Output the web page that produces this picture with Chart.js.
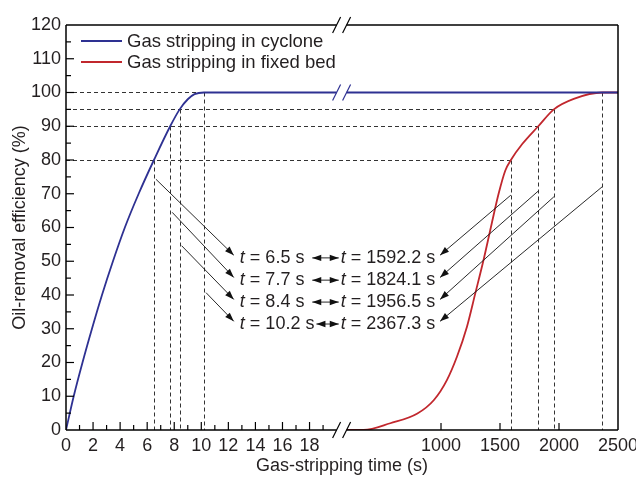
<!DOCTYPE html>
<html><head><meta charset="utf-8">
<script src="https://cdn.jsdelivr.net/npm/chart.js@4.4.1/dist/chart.umd.min.js"></script>
<style>html,body{margin:0;padding:0;background:#fff}canvas{display:block}</style>
</head><body>
<canvas id="c" width="636" height="477" style="width:636px;height:477px"></canvas>
<script>
// ---------- data ----------
const seriesNames = ['Gas stripping in cyclone', 'Gas stripping in fixed bed'];
const cycloneTime = [0, 0.57, 1.22, 1.92, 2.66, 3.47, 4.35, 5.37, 6.5, 7.7, 8.4, 9.0, 9.5, 10.2, 20, 2500];
const cycloneEff  = [0, 10, 20, 30, 40, 50, 60, 70, 80, 90, 95, 98, 99.5, 100, 100, 100];
const fixedTime = [200, 344, 570, 800, 940, 1050, 1135, 1220, 1290, 1360, 1430, 1488, 1545, 1592.2, 1690, 1824.1, 1956.5, 2125, 2367.3, 2500];
const fixedEff  = [0, 0, 2, 4.9, 8.9, 14.8, 21.7, 30.6, 40.4, 50.3, 61.2, 70, 76.9, 80, 84.8, 90, 95, 98.1, 100, 100];
const markLevels   = [80, 90, 95, 100];
const cycloneMarks = [6.5, 7.7, 8.4, 10.2];
const fixedMarks   = [1592.2, 1824.1, 1956.5, 2367.3];
const xTicksLeft  = [0, 2, 4, 6, 8, 10, 12, 14, 16, 18];
const xTicksRight = [1000, 1500, 2000, 2500];
const yTickLabels = [0, 10, 20, 30, 40, 50, 60, 70, 80, 90, 100, 110, 120];
const xTitle = 'Gas-stripping time (s)';
const yTitle = 'Oil-removal efficiency (%)';

// ---------- broken-axis mapping ----------
const LEFT_MAX = 20, RIGHT_MIN = 200, RIGHT_MAX = 2500, GAP = 0.74, K = 0.008721;
function vx(t) {
  if (t <= LEFT_MAX) return t;
  if (t >= RIGHT_MIN) return LEFT_MAX + GAP + (t - RIGHT_MIN) * K;
  return LEFT_MAX + (t - LEFT_MAX) / (RIGHT_MIN - LEFT_MAX) * GAP;
}
const VMAX = vx(RIGHT_MAX);
const xTickVals = [...xTicksLeft, ...xTicksRight];

// ---------- styles ----------
const FONT = "'Liberation Sans', Arial, sans-serif";
const TXT = '#231f20';
const BLUE = '#2e3192';
const RED = '#c1272d';

// annotation layout (data-space anchors)
const annot = {
  rowY: [51, 44.4, 37.9, 31.4],
  leftStartY: [74.3, 64.5, 54.6, 40.7],
  rightStartY: [69.6, 70.8, 69.1, 72.1],
  leftTipT: 12.4, leftTextT: 12.85, rightTextEndT: 952, rightTipT: 992,
  dblStartT: 18.2
};

function line(ctx, x1, y1, x2, y2) { ctx.beginPath(); ctx.moveTo(x1, y1); ctx.lineTo(x2, y2); ctx.stroke(); }
function head(ctx, x1, y1, x2, y2, len, half) {
  const a = Math.atan2(y2 - y1, x2 - x1), c = Math.cos(a), s = Math.sin(a);
  ctx.beginPath();
  ctx.moveTo(x2, y2);
  ctx.lineTo(x2 - len * c + half * s, y2 - len * s - half * c);
  ctx.lineTo(x2 - len * c - half * s, y2 - len * s + half * c);
  ctx.closePath(); ctx.fill();
}
function arrow(ctx, x1, y1, x2, y2) {
  line(ctx, x1, y1, x2, y2);
  head(ctx, x1, y1, x2, y2, 9, 3.2);
}
function tText(ctx, x, y, val, align) {
  const rest = ' = ' + val + ' s';
  ctx.font = 'italic 18px ' + FONT; const w1 = ctx.measureText('t').width;
  ctx.font = '18px ' + FONT; const w2 = ctx.measureText(rest).width;
  let x0 = align === 'right' ? x - w1 - w2 : x;
  ctx.textAlign = 'left'; ctx.textBaseline = 'middle'; ctx.fillStyle = TXT;
  ctx.font = 'italic 18px ' + FONT; ctx.fillText('t', x0, y);
  ctx.font = '18px ' + FONT; ctx.fillText(rest, x0 + w1, y);
  return {left: x0, right: x0 + w1 + w2};
}

const decor = {
  id: 'decor',
  beforeDatasetsDraw(chart) {
    const {ctx, scales: {x, y}} = chart;
    ctx.save();
    ctx.setLineDash([4, 3]); ctx.strokeStyle = '#333'; ctx.lineWidth = 1;
    markLevels.forEach((lv, i) => {
      const py = Math.round(y.getPixelForValue(lv)) + 0.5;
      const xl = Math.round(x.getPixelForValue(vx(cycloneMarks[i]))) + 0.5;
      const xr = Math.round(x.getPixelForValue(vx(fixedMarks[i]))) + 0.5;
      line(ctx, x.left, py, xr, py);
      line(ctx, xl, py, xl, y.bottom);
      line(ctx, xr, py, xr, y.bottom);
    });
    ctx.restore();
  },
  afterDatasetsDraw(chart) {
    const {ctx, scales: {x, y}, chartArea: ca} = chart;
    ctx.save();
    // breaks: white gaps
    const bx = (x.getPixelForValue(vx(LEFT_MAX)) + x.getPixelForValue(vx(RIGHT_MIN))) / 2;
    const py100 = y.getPixelForValue(100);
    ctx.fillStyle = '#fff';
    ctx.fillRect(bx - 5, ca.top - 3, 10, 6);
    ctx.fillRect(bx - 5, ca.bottom - 3, 10, 6);
    ctx.fillRect(bx - 5, py100 - 3, 10, 6);
    // frame
    ctx.strokeStyle = '#000'; ctx.lineWidth = 1.5;
    line(ctx, ca.left, ca.top, ca.left, ca.bottom);
    line(ctx, ca.right, ca.top, ca.right, ca.bottom);
    line(ctx, ca.left, ca.top, bx - 5, ca.top);
    line(ctx, bx + 5, ca.top, ca.right, ca.top);
    line(ctx, ca.left, ca.bottom, bx - 5, ca.bottom);
    line(ctx, bx + 5, ca.bottom, ca.right, ca.bottom);
    // break slashes
    ctx.lineWidth = 1.2;
    [ca.top, ca.bottom].forEach(py => {
      [-5, 5].forEach(d => line(ctx, bx + d - 4, py + 8, bx + d + 4, py - 8));
    });
    ctx.strokeStyle = BLUE;
    [-5, 5].forEach(d => line(ctx, bx + d - 4, py100 + 8, bx + d + 4, py100 - 8));
    // inward ticks
    ctx.strokeStyle = '#000'; ctx.lineWidth = 1.2;
    for (let v = 5; v < 120; v += 5) {
      const py = y.getPixelForValue(v), len = v % 10 === 0 ? 8 : 5;
      line(ctx, ca.left, py, ca.left + len, py);
    }
    for (let t = 1; t < LEFT_MAX; t++) {
      const px = x.getPixelForValue(vx(t)), len = t % 2 === 0 ? 8 : 5;
      line(ctx, px, ca.bottom, px, ca.bottom - len);
    }
    xTicksRight.slice(0, -1).forEach(t => {
      const px = x.getPixelForValue(vx(t));
      line(ctx, px, ca.bottom, px, ca.bottom - 7);
    });
    // annotations
    cycloneMarks.forEach((t, i) => {
      const ry = y.getPixelForValue(annot.rowY[i]);
      const tipY = y.getPixelForValue(annot.rowY[i] + 0.8);
      ctx.strokeStyle = '#111'; ctx.fillStyle = '#111'; ctx.lineWidth = 0.9;
      arrow(ctx, x.getPixelForValue(vx(t)) + 2, y.getPixelForValue(annot.leftStartY[i]),
            x.getPixelForValue(vx(annot.leftTipT)), tipY);
      arrow(ctx, x.getPixelForValue(vx(fixedMarks[i])), y.getPixelForValue(annot.rightStartY[i]),
            x.getPixelForValue(vx(annot.rightTipT)), tipY);
      const l = tText(ctx, x.getPixelForValue(vx(annot.leftTextT)), ry, t.toFixed(1), 'left');
      const r = tText(ctx, x.getPixelForValue(vx(annot.rightTextEndT)), ry, fixedMarks[i].toFixed(1), 'right');
      ctx.strokeStyle = '#111'; ctx.fillStyle = '#111'; ctx.lineWidth = 0.9;
      const xa = Math.max(x.getPixelForValue(vx(annot.dblStartT)), l.right + 2), xb = r.left - 2;
      line(ctx, xa, ry, xb, ry);
      head(ctx, xb, ry, xa, ry, 9, 3.2);
      head(ctx, xa, ry, xb, ry, 9, 3.2);
    });
    // legend
    const colors = [BLUE, RED];
    seriesNames.forEach((name, i) => {
      const ly = ca.top + 16 + i * 21;
      ctx.strokeStyle = colors[i]; ctx.lineWidth = 1.8;
      line(ctx, ca.left + 15, ly, ca.left + 56, ly);
      ctx.fillStyle = TXT; ctx.font = '18.5px ' + FONT; ctx.textAlign = 'left'; ctx.textBaseline = 'middle';
      ctx.fillText(name, ca.left + 61, ly + 1);
    });
    ctx.restore();
  }
};

const tickFont = {family: FONT, size: 18};
new Chart(document.getElementById('c'), {
  type: 'line',
  data: {
    datasets: [
      {label: seriesNames[0], data: cycloneTime.map((t, i) => ({x: vx(t), y: cycloneEff[i]})),
       borderColor: BLUE, borderWidth: 1.8, pointRadius: 0, fill: false, cubicInterpolationMode: 'monotone'},
      {label: seriesNames[1], data: fixedTime.map((t, i) => ({x: vx(t), y: fixedEff[i]})),
       borderColor: RED, borderWidth: 1.8, pointRadius: 0, fill: false, cubicInterpolationMode: 'monotone'}
    ]
  },
  options: {
    responsive: false, animation: false, devicePixelRatio: 1,
    layout: {padding: {left: 0, right: 18, top: 25, bottom: 0}},
    plugins: {legend: {display: false}, tooltip: {enabled: false}},
    scales: {
      x: {
        type: 'linear', min: 0, max: VMAX,
        grid: {display: false, drawTicks: false}, border: {display: false},
        afterBuildTicks: s => { s.ticks = xTickVals.map(v => ({value: vx(v)})); },
        ticks: {autoSkip: false, maxRotation: 0, padding: 5, font: tickFont, color: TXT,
                callback: (v, i) => String(xTickVals[i])},
        afterFit: s => { s.height = 47; s.paddingLeft = 0; s.paddingRight = 0; },
        title: {display: true, text: xTitle, font: tickFont, color: TXT, padding: {top: 0, bottom: 0}}
      },
      y: {
        type: 'linear', min: 0, max: 120,
        grid: {display: false, drawTicks: false}, border: {display: false},
        afterBuildTicks: s => { s.ticks = yTickLabels.map(v => ({value: v})); },
        ticks: {padding: 5, font: tickFont, color: TXT, callback: (v) => String(v)},
        afterFit: s => { s.width = 66; s.paddingTop = 0; s.paddingBottom = 0; },
        title: {display: true, text: yTitle, font: tickFont, color: TXT, padding: {top: 9, bottom: 0}}
      }
    }
  },
  plugins: [decor]
});
</script>
</body></html>
